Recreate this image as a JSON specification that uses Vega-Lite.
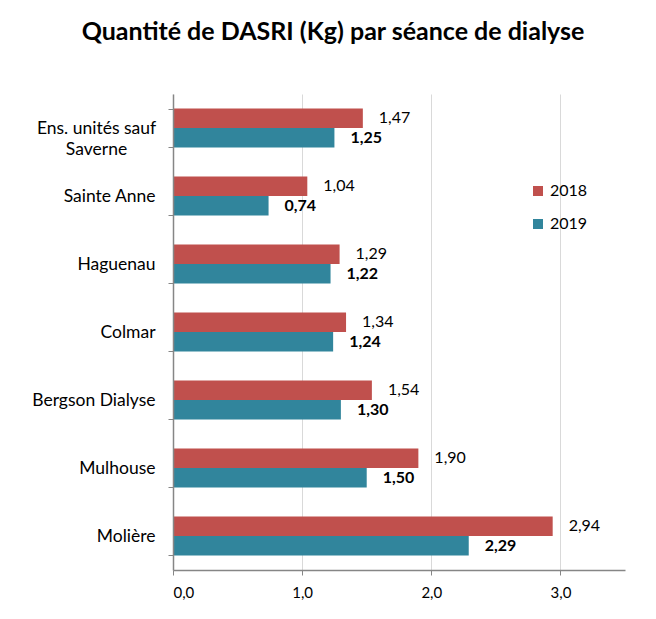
{
  "$schema": "https://vega.github.io/schema/vega-lite/v6.json",
  "autosize": "none",
  "width": 452,
  "height": 476,
  "padding": {"left": 173, "top": 94, "right": 31, "bottom": 49},
  "background": "white",
  "title": {
    "text": "Quantité de DASRI (Kg) par séance de dialyse",
    "font": "Lato",
    "fontSize": 25,
    "fontWeight": "bold",
    "color": "#000000",
    "anchor": "middle",
    "dx": -66,
    "baseline": "alphabetic",
    "offset": 20
  },
  "data": {
    "values": [
      {"unit": "Ens. unités sauf Saverne", "year": "2018", "value": 1.47},
      {"unit": "Ens. unités sauf Saverne", "year": "2019", "value": 1.25},
      {"unit": "Sainte Anne", "year": "2018", "value": 1.04},
      {"unit": "Sainte Anne", "year": "2019", "value": 0.74},
      {"unit": "Haguenau", "year": "2018", "value": 1.29},
      {"unit": "Haguenau", "year": "2019", "value": 1.22},
      {"unit": "Colmar", "year": "2018", "value": 1.34},
      {"unit": "Colmar", "year": "2019", "value": 1.24},
      {"unit": "Bergson Dialyse", "year": "2018", "value": 1.54},
      {"unit": "Bergson Dialyse", "year": "2019", "value": 1.30},
      {"unit": "Mulhouse", "year": "2018", "value": 1.90},
      {"unit": "Mulhouse", "year": "2019", "value": 1.50},
      {"unit": "Molière", "year": "2018", "value": 2.94},
      {"unit": "Molière", "year": "2019", "value": 2.29}
    ]
  },
  "encoding": {
    "y": {
      "field": "unit",
      "type": "nominal",
      "sort": ["Ens. unités sauf Saverne", "Sainte Anne", "Haguenau", "Colmar", "Bergson Dialyse", "Mulhouse", "Molière"],
      "scale": {"paddingInner": 0.43, "paddingOuter": 0.215},
      "axis": {
        "title": null,
        "zindex": 1,
        "domain": true,
        "domainColor": "#868686",
        "domainWidth": 1.5,
        "tickBand": "extent",
        "tickSize": 5,
        "labelAlign": {"condition": {"test": "datum.value == 'Ens. unités sauf Saverne'", "value": "center"}, "value": "right"},
        "labelPadding": {"condition": {"test": "datum.value == 'Ens. unités sauf Saverne'", "value": 72}, "value": 13},
        "labelFontSize": 17.5,
        "labelLineHeight": 21,
        "labelLimit": 200,
        "labelExpr": "datum.value == 'Ens. unités sauf Saverne' ? ['Ens. unités sauf', 'Saverne'] : datum.value"
      }
    },
    "x": {
      "field": "value",
      "type": "quantitative",
      "scale": {"domain": [0, 3.5], "nice": false},
      "axis": {
        "title": null,
        "values": [0, 1, 2, 3],
        "grid": true,
        "domainColor": "#868686",
        "domainWidth": 1.5,
        "tickSize": 5,
        "labelPadding": 10,
        "labelFontSize": 15,
        "labelExpr": "replace(format(datum.value, '.1f'), '.', ',')"
      }
    },
    "yOffset": {"field": "year", "type": "nominal", "sort": ["2018", "2019"]}
  },
  "layer": [
    {
      "mark": {"type": "bar"},
      "encoding": {
        "color": {
          "field": "year",
          "type": "nominal",
          "scale": {"domain": ["2018", "2019"], "range": ["#C0504D", "#31859C"]},
          "legend": {
            "title": null,
            "orient": "none",
            "legendX": 357,
            "legendY": 89,
            "symbolType": "square",
            "symbolSize": 100,
            "symbolStrokeWidth": 0,
            "labelFontSize": 16,
            "rowPadding": 17,
            "padding": 0
          }
        }
      }
    },
    {
      "transform": [{"filter": "datum.year == '2018'"}],
      "mark": {"type": "text", "align": "left", "baseline": "middle", "dx": 16, "fontSize": 16, "color": "#000000"},
      "encoding": {
        "text": {"field": "value", "type": "quantitative", "format": ".2f"}
      }
    },
    {
      "transform": [{"filter": "datum.year == '2019'"}],
      "mark": {"type": "text", "align": "left", "baseline": "middle", "dx": 16, "fontSize": 16, "fontWeight": "bold", "color": "#000000"},
      "encoding": {
        "text": {"field": "value", "type": "quantitative", "format": ".2f"}
      }
    }
  ],
  "config": {
    "locale": {"number": {"decimal": ",", "thousands": " ", "grouping": [3], "currency": ["", " €"]}},
    "font": "Lato",
    "view": {"stroke": null},
    "axis": {
      "tickColor": "#868686",
      "gridColor": "#d9d9d9",
      "labelColor": "#000000",
      "labelFont": "Lato"
    },
    "legend": {"labelColor": "#000000", "labelFont": "Lato"}
  }
}
